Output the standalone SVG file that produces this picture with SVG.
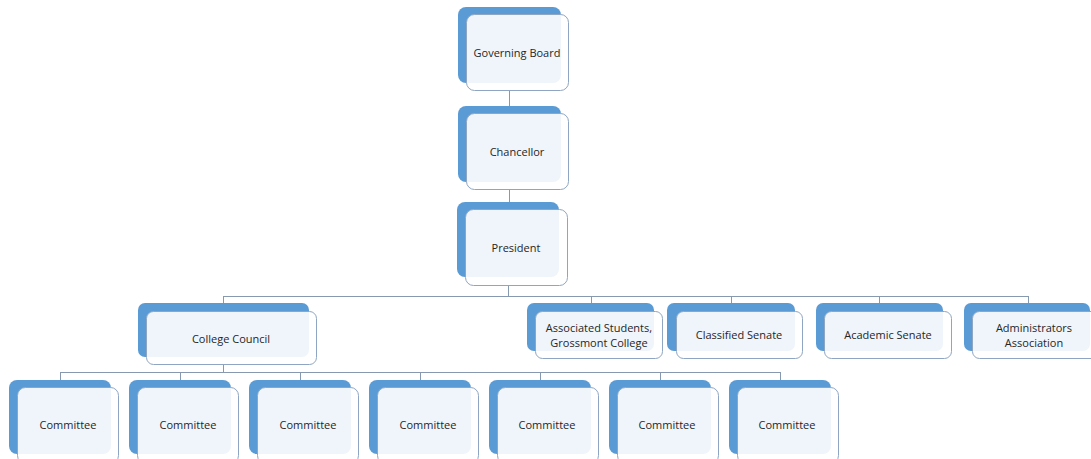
<svg xmlns="http://www.w3.org/2000/svg" width="1091" height="459" viewBox="0 0 1091 459">
<style>
.back{fill:#5b9bd5;}
.front{fill:#ffffff;fill-opacity:0.9;stroke:#8fa6c2;stroke-width:1;}
.conn{stroke:#8699b1;stroke-width:1;fill:none;}
text{font-family:"Open Sans","Noto Sans",sans-serif;font-size:11px;fill:#262626;text-anchor:middle;dominant-baseline:central;}
</style>
<rect width="1091" height="459" fill="#ffffff"/>
<g id="connectors">
<path class="conn" d="M509.5,91V106 M509.5,190V202 M508.5,286V296.5 M223,296.5H1028.5 M223.5,296V303 M591.5,296V303 M731.5,296V303 M879.5,296V303 M1028.5,296V303"/>
<path class="conn" d="M223.5,365V372.5 M60,372.5H780.5 M60.5,372V380 M180.5,372V380 M300.5,372V380 M420.5,372V380 M540.5,372V380 M660.5,372V380 M780.5,372V380"/>
</g>
<g id="governing-board"><rect class="back" x="458" y="7" width="103" height="76" rx="8"/><rect class="front" x="466.5" y="14.5" width="102" height="76" rx="8"/><text x="517" y="52">Governing Board</text></g>
<g id="chancellor"><rect class="back" x="458" y="106" width="103" height="76" rx="8"/><rect class="front" x="466.5" y="113.5" width="102" height="76" rx="8"/><text x="517" y="151">Chancellor</text></g>
<g id="president"><rect class="back" x="457" y="202" width="102" height="75" rx="8"/><rect class="front" x="465.5" y="209.5" width="102" height="76" rx="8"/><text x="516" y="247">President</text></g>
<g id="college-council"><rect class="back" x="138" y="303" width="171" height="54" rx="7"/><rect class="front" x="146.5" y="311.5" width="170" height="53" rx="7"/><text x="231" y="338">College Council</text></g>
<g id="associated-students"><rect class="back" x="527" y="303" width="127" height="48" rx="7"/><rect class="front" x="535.5" y="311.5" width="127" height="47" rx="7"/><text x="599" y="327">Associated Students,</text><text x="599" y="342">Grossmont College</text></g>
<g id="classified-senate"><rect class="back" x="667" y="303" width="128" height="48" rx="7"/><rect class="front" x="676.5" y="311.5" width="126" height="47" rx="7"/><text x="739" y="334">Classified Senate</text></g>
<g id="academic-senate"><rect class="back" x="816" y="303" width="127" height="48" rx="7"/><rect class="front" x="824.5" y="311.5" width="127" height="47" rx="7"/><text x="888" y="334">Academic Senate</text></g>
<g id="administrators-association"><rect class="back" x="964" y="303" width="126" height="48" rx="7"/><rect class="front" x="972.5" y="311.5" width="126" height="47" rx="7"/><text x="1034" y="327">Administrators</text><text x="1034" y="342">Association</text></g>
<g id="committee-1"><rect class="back" x="9" y="380" width="102" height="74" rx="8"/><rect class="front" x="17.5" y="387.5" width="101" height="76" rx="8"/><text x="68" y="424">Committee</text></g>
<g id="committee-2"><rect class="back" x="129" y="380" width="102" height="74" rx="8"/><rect class="front" x="137.5" y="387.5" width="101" height="76" rx="8"/><text x="188" y="424">Committee</text></g>
<g id="committee-3"><rect class="back" x="249" y="380" width="102" height="74" rx="8"/><rect class="front" x="257.5" y="387.5" width="101" height="76" rx="8"/><text x="308" y="424">Committee</text></g>
<g id="committee-4"><rect class="back" x="369" y="380" width="102" height="74" rx="8"/><rect class="front" x="377.5" y="387.5" width="101" height="76" rx="8"/><text x="428" y="424">Committee</text></g>
<g id="committee-5"><rect class="back" x="489" y="380" width="102" height="74" rx="8"/><rect class="front" x="497.5" y="387.5" width="101" height="76" rx="8"/><text x="547" y="424">Committee</text></g>
<g id="committee-6"><rect class="back" x="609" y="380" width="102" height="74" rx="8"/><rect class="front" x="617.5" y="387.5" width="101" height="76" rx="8"/><text x="667" y="424">Committee</text></g>
<g id="committee-7"><rect class="back" x="729" y="380" width="102" height="74" rx="8"/><rect class="front" x="737.5" y="387.5" width="101" height="76" rx="8"/><text x="787" y="424">Committee</text></g>
</svg>
